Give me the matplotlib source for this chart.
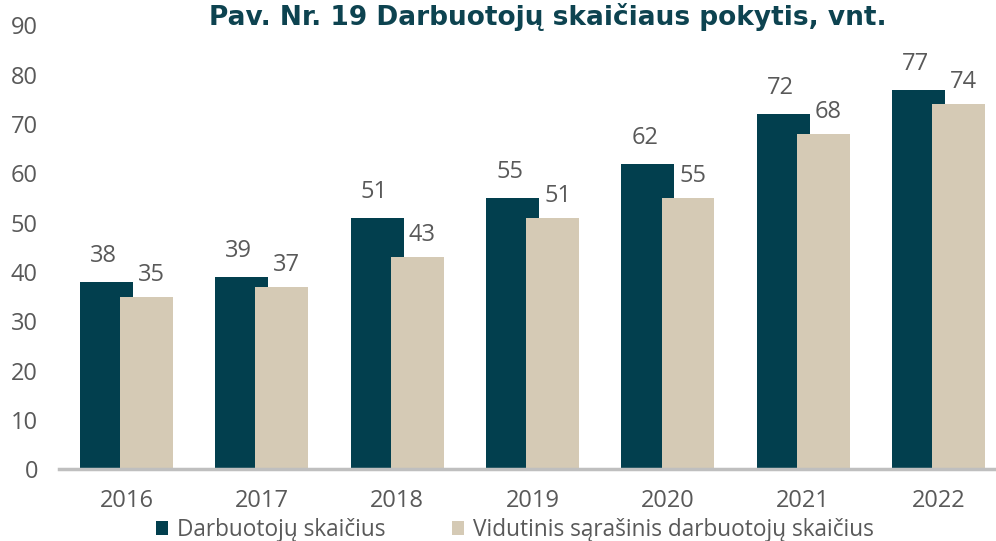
import numpy as np
import matplotlib
matplotlib.use("Agg")
import matplotlib.pyplot as plt

years = ["2016", "2017", "2018", "2019", "2020", "2021", "2022"]
darbuotoju = [38, 39, 51, 55, 62, 72, 77]
vidutinis = [35, 37, 43, 51, 55, 68, 74]
series_names = ["Darbuotojų skaičius", "Vidutinis sąrašinis darbuotojų skaičius"]

plt.rcParams['font.family'] = ['Open Sans', 'DejaVu Sans']

dark = "#023F4E"
beige = "#D5CAB5"
grey = "#595959"

fig = plt.figure(figsize=(9.96, 5.41), dpi=100)
ax = fig.add_axes([58.8 / 996, 1 - 469.3 / 541, 947.5 / 996, 443.8 / 541])

x = np.arange(len(years))
w = 0.39
off = 0.148
b1 = ax.bar(x - off, darbuotoju, w, color=dark, label=series_names[0], zorder=2)
b2 = ax.bar(x + off, vidutinis, w, color=beige, label=series_names[1], zorder=3)

for rect, v in zip(b1, darbuotoju):
    ax.annotate(str(v), (rect.get_x() + rect.get_width() / 2, v), xytext=(-3, 14),
                textcoords="offset pixels", ha="center", va="bottom", fontsize=17, color=grey)
for rect, v in zip(b2, vidutinis):
    ax.annotate(str(v), (rect.get_x() + rect.get_width() / 2, v), xytext=(5, 10),
                textcoords="offset pixels", ha="center", va="bottom", fontsize=17, color=grey)

ax.set_xlim(-0.5, len(years) - 0.5)
ax.set_ylim(0, 90)
ax.set_yticks(range(0, 91, 10))
ax.set_xticks(x)
ax.set_xticklabels(years)
ax.tick_params(axis="both", length=0, labelsize=17, labelcolor=grey)
ax.tick_params(axis="x", pad=14)
ax.tick_params(axis="y", pad=15)
for s in ["top", "right", "left"]:
    ax.spines[s].set_visible(False)
ax.spines["bottom"].set_color("#BFBFBF")
ax.spines["bottom"].set_linewidth(2.5)
ax.spines["bottom"].set_zorder(4)

fig.text(0.55, 0.968, "Pav. Nr. 19 Darbuotojų skaičiaus pokytis, vnt.", ha="center", va="center",
         fontsize=19, fontweight="bold", color="#0D4350", family="DejaVu Sans")

fig.legend(loc="center", bbox_to_anchor=(0.517, 0.02), ncol=2, frameon=False, fontsize=16.3,
           labelcolor=grey, handlelength=0.55, handleheight=0.55, handletextpad=0.4, columnspacing=2.9)

fig.savefig("out.png", dpi=100)
